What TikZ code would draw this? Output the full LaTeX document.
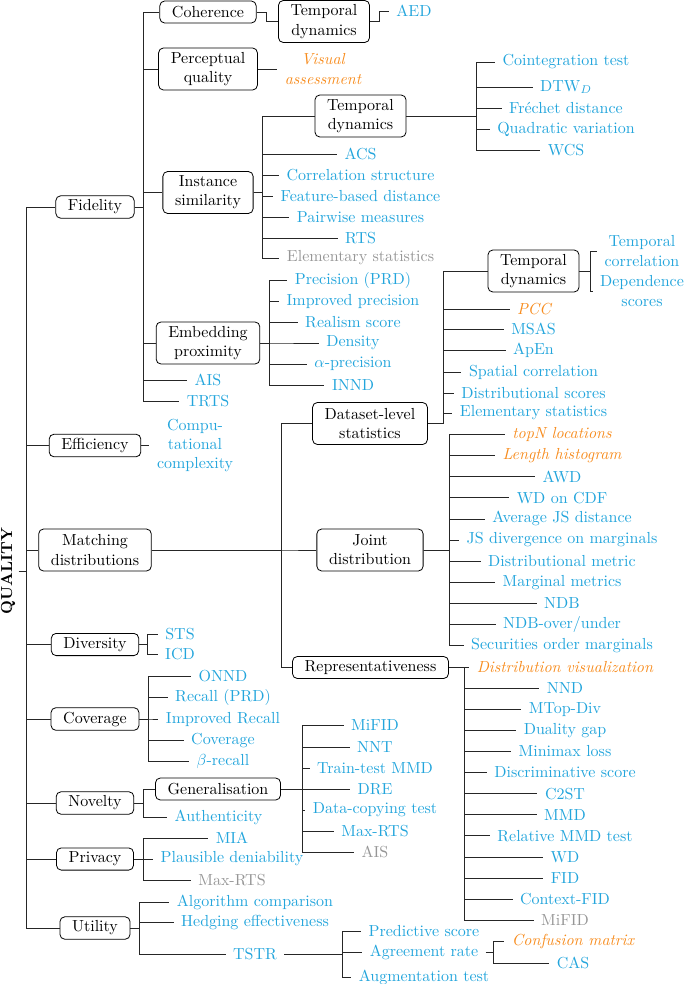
\documentclass[tikz,border=0pt]{standalone}
\usepackage{fontspec}
\definecolor{mblue}{RGB}{35,165,220}
\definecolor{morange}{RGB}{247,140,30}
\definecolor{mgray}{RGB}{150,150,150}
\tikzset{
  box/.style={draw, rounded corners=3pt, line width=0.5pt, inner xsep=7.6pt, inner ysep=2.5pt, align=center, minimum height=13.75pt},
  box2/.style={box, minimum height=26.25pt},
  leaf/.style={text=mblue, inner xsep=4.5pt, inner ysep=1pt, align=center},
  oleaf/.style={leaf, text=morange, font=\itshape},
  gleaf/.style={leaf, text=mgray},
  conn/.style={line width=0.5pt, draw=black!85},
  rootnode/.style={font=\bfseries, rotate=90, inner sep=2pt},
}
\newcommand{\mkfork}[3]{\foreach \c in {#3} {\draw[conn] (#1.east) -- (#1.east -| #2) |- (\c.west);}}
\begin{document}
\begin{tikzpicture}[x=0.625pt, y=-0.625pt]
\useasboundingbox (0,0) rectangle (685,984);

% root
\node[rootnode] (root) at (8,571) {QUALITY};
\coordinate (fR) at (26,571);

% level 1
\node[box] (Fid) at (95,207) {Fidelity};
\node[box] (Eff) at (95,445.5) {Efficiency};
\node[box2] (Mat) at (95,550) {Matching\\distributions};
\node[box] (Div) at (95,644.5) {Diversity};
\node[box] (Cov) at (95,719) {Coverage};
\node[box] (Nov) at (95,803) {Novelty};
\node[box] (Pri) at (95,859) {Privacy};
\node[box] (Uti) at (95,928) {Utility};

% Fidelity
\coordinate (fFid) at (143,207);
\node[box] (Coh) at (208,12) {Coherence};
\node[box2] (Per) at (208,69) {Perceptual\\quality};
\node[box2] (Ins) at (208,192.5) {Instance\\similarity};
\node[box2] (Emb) at (208,343) {Embedding\\proximity};
\node[leaf] (AISa) at (208,380) {AIS};
\node[leaf] (TRTS) at (208,401) {TRTS};

% Coherence
\coordinate (fCoh) at (266,12);
\node[box2] (TD1) at (324,21.5) {Temporal\\dynamics};
\coordinate (fTD1) at (379,21.5);
\node[leaf] (AED) at (414,11) {AED};

% Perceptual quality
\node[oleaf] (VA) at (323,69) {Visual\\assessment};

% Instance similarity
\coordinate (fIns) at (262,192.5);
\node[box2] (TD2) at (360.5,116) {Temporal\\dynamics};
\node[leaf] (ACS) at (360.5,154) {ACS};
\node[leaf] (CorS) at (360.5,175) {Correlation structure};
\node[leaf] (FBD) at (360.5,196) {Feature-based distance};
\node[leaf] (PWM) at (360.5,217) {Pairwise measures};
\node[leaf] (RTSa) at (360.5,238) {RTS};
\node[gleaf] (ESa) at (360.5,258) {Elementary statistics};

\coordinate (fTD2) at (476,116);
\node[leaf] (Coint) at (566,62) {Cointegration test};
\node[leaf] (DTW) at (566,87) {DTW$_D$};
\node[leaf] (Frech) at (566,108) {Fréchet distance};
\node[leaf] (Quad) at (566,129) {Quadratic variation};
\node[leaf] (WCS) at (566,150) {WCS};

% Embedding proximity
\coordinate (fEmb) at (269,343);
\node[leaf] (Prec) at (353,280) {Precision (PRD)};
\node[leaf] (ImpP) at (353,301) {Improved precision};
\node[leaf] (Real) at (353,322) {Realism score};
\node[leaf] (Dens) at (353,343) {Density};
\node[leaf] (Alph) at (353,364) {$\alpha$-precision};
\node[leaf] (INND) at (353,385.5) {INND};

% Efficiency
\node[leaf] (CC) at (195,445.5) {Compu-\\tational\\complexity};

% Matching distributions
\coordinate (fMat) at (281,550);
\node[box2] (DLS) at (370,423.5) {Dataset-level\\statistics};
\node[box2] (JD) at (370,550) {Joint\\distribution};
\node[box] (Rep) at (370.5,667.5) {Representativeness};

% Dataset-level statistics
\coordinate (fDLS) at (443,423.5);
\node[box2] (TD3) at (533.5,271) {Temporal\\dynamics};
\node[oleaf] (PCC) at (534,309) {PCC};
\node[leaf] (MSAS) at (533.5,329) {MSAS};
\node[leaf] (ApEn) at (533.5,350) {ApEn};
\node[leaf] (SpC) at (533.5,372) {Spatial correlation};
\node[leaf] (DisS) at (533.5,393) {Distributional scores};
\node[leaf] (ESb) at (533.5,413) {Elementary statistics};

\coordinate (fTD3) at (590,271);
\node[leaf] (TC) at (642,251) {Temporal\\correlation};
\node[leaf] (DepS) at (642,291) {Dependence\\scores};

% Joint distribution
\coordinate (fJD) at (449,550);
\node[oleaf] (topN) at (562,434.5) {topN locations};
\node[oleaf] (LH) at (562,455.6) {Length histogram};
\node[leaf] (AWD) at (562,476.7) {AWD};
\node[leaf] (WDC) at (562,497.8) {WD on CDF};
\node[leaf] (AJS) at (562,518.9) {Average JS distance};
\node[leaf] (JSD) at (562,540) {JS divergence on marginals};
\node[leaf] (DMe) at (562,561.1) {Distributional metric};
\node[leaf] (MaM) at (562,582.2) {Marginal metrics};
\node[leaf] (NDB) at (562,603.3) {NDB};
\node[leaf] (NDBo) at (562,624.4) {NDB-over/under};
\node[leaf] (SOM) at (562,645.5) {Securities order marginals};

% Representativeness
\coordinate (fRep) at (464,667.5);
\node[oleaf] (DV) at (565,667.5) {Distribution visualization};
\node[leaf] (NND) at (565,688.1) {NND};
\node[leaf] (MTop) at (565,709.2) {MTop-Div};
\node[leaf] (Dual) at (565,730.3) {Duality gap};
\node[leaf] (Mini) at (565,751.4) {Minimax loss};
\node[leaf] (Disc) at (565,772.5) {Discriminative score};
\node[leaf] (C2ST) at (565,793.6) {C2ST};
\node[leaf] (MMD) at (565,814.7) {MMD};
\node[leaf] (RMMD) at (565,835.8) {Relative MMD test};
\node[leaf] (WDb) at (565,856.9) {WD};
\node[leaf] (FID) at (565,878) {FID};
\node[leaf] (CFID) at (565,899.1) {Context-FID};
\node[gleaf] (MiFb) at (565,920.2) {MiFID};

% Diversity
\coordinate (fDiv) at (147,644.5);
\node[leaf] (STS) at (180,634) {STS};
\node[leaf] (ICD) at (180,654.5) {ICD};

% Coverage
\coordinate (fCov) at (148,719);
\node[leaf] (ONND) at (223,676) {ONND};
\node[leaf] (RecP) at (223,697) {Recall (PRD)};
\node[leaf] (ImpR) at (223,719) {Improved Recall};
\node[leaf] (CovL) at (223,740) {Coverage};
\node[leaf] (Beta) at (223,761) {$\beta$-recall};

% Novelty
\coordinate (fNov) at (143,803);
\node[box] (Gen) at (218,789) {Generalisation};
\node[leaf] (Auth) at (218.5,817) {Authenticity};

\coordinate (fGen) at (302,789);
\node[leaf] (MiFa) at (375,725) {MiFID};
\node[leaf] (NNT) at (375,747) {NNT};
\node[leaf] (TTM) at (375,768) {Train-test MMD};
\node[leaf] (DRE) at (375,789) {DRE};
\node[leaf] (DCT) at (375,810) {Data-copying test};
\node[leaf] (MaxRa) at (375,831) {Max-RTS};
\node[gleaf] (AISb) at (375,852) {AIS};

% Privacy
\coordinate (fPri) at (143,859);
\node[leaf] (MIA) at (232,838) {MIA};
\node[leaf] (PD) at (232,859) {Plausible deniability};
\node[gleaf] (MaxRb) at (232,880) {Max-RTS};

% Utility
\coordinate (fUti) at (139,928);
\node[leaf] (AC) at (255,902) {Algorithm comparison};
\node[leaf] (HE) at (255,922.5) {Hedging effectiveness};
\node[leaf] (TSTR) at (255,954) {TSTR};

\coordinate (fTSTR) at (342,954);
\node[leaf] (PS) at (424,931) {Predictive score};
\node[leaf] (AR) at (424,952.5) {Agreement rate};
\node[leaf] (AT) at (424,977) {Augmentation test};

\coordinate (fAR) at (493,952.5);
\node[oleaf] (CM) at (573,941) {Confusion matrix};
\node[leaf] (CAS) at (573,963) {CAS};

% connectors
\draw[conn] (root.south) -- (fR);
\foreach \c in {Fid,Eff,Mat,Div,Cov,Nov,Pri,Uti} {\draw[conn] (fR) |- (\c.west);}
\mkfork{Fid}{fFid}{Coh,Per,Ins,Emb,AISa,TRTS}
\mkfork{Coh}{fCoh}{TD1}
\mkfork{TD1}{fTD1}{AED}
\draw[conn] (Per.east) -- (VA.west);
\mkfork{Ins}{fIns}{TD2,ACS,CorS,FBD,PWM,RTSa,ESa}
\mkfork{TD2}{fTD2}{Coint,DTW,Frech,Quad,WCS}
\mkfork{Emb}{fEmb}{Prec,ImpP,Real,Dens,Alph,INND}
\draw[conn] (Eff.east) -- (CC.west);
\mkfork{Mat}{fMat}{DLS,JD,Rep}
\mkfork{DLS}{fDLS}{TD3,PCC,MSAS,ApEn,SpC,DisS,ESb}
\mkfork{TD3}{fTD3}{TC,DepS}
\mkfork{JD}{fJD}{topN,LH,AWD,WDC,AJS,JSD,DMe,MaM,NDB,NDBo,SOM}
\mkfork{Rep}{fRep}{DV,NND,MTop,Dual,Mini,Disc,C2ST,MMD,RMMD,WDb,FID,CFID,MiFb}
\mkfork{Div}{fDiv}{STS,ICD}
\mkfork{Cov}{fCov}{ONND,RecP,ImpR,CovL,Beta}
\mkfork{Nov}{fNov}{Gen,Auth}
\mkfork{Gen}{fGen}{MiFa,NNT,TTM,DRE,DCT,MaxRa,AISb}
\mkfork{Pri}{fPri}{MIA,PD,MaxRb}
\mkfork{Uti}{fUti}{AC,HE,TSTR}
\mkfork{TSTR}{fTSTR}{PS,AR,AT}
\mkfork{AR}{fAR}{CM,CAS}
\end{tikzpicture}
\end{document}
